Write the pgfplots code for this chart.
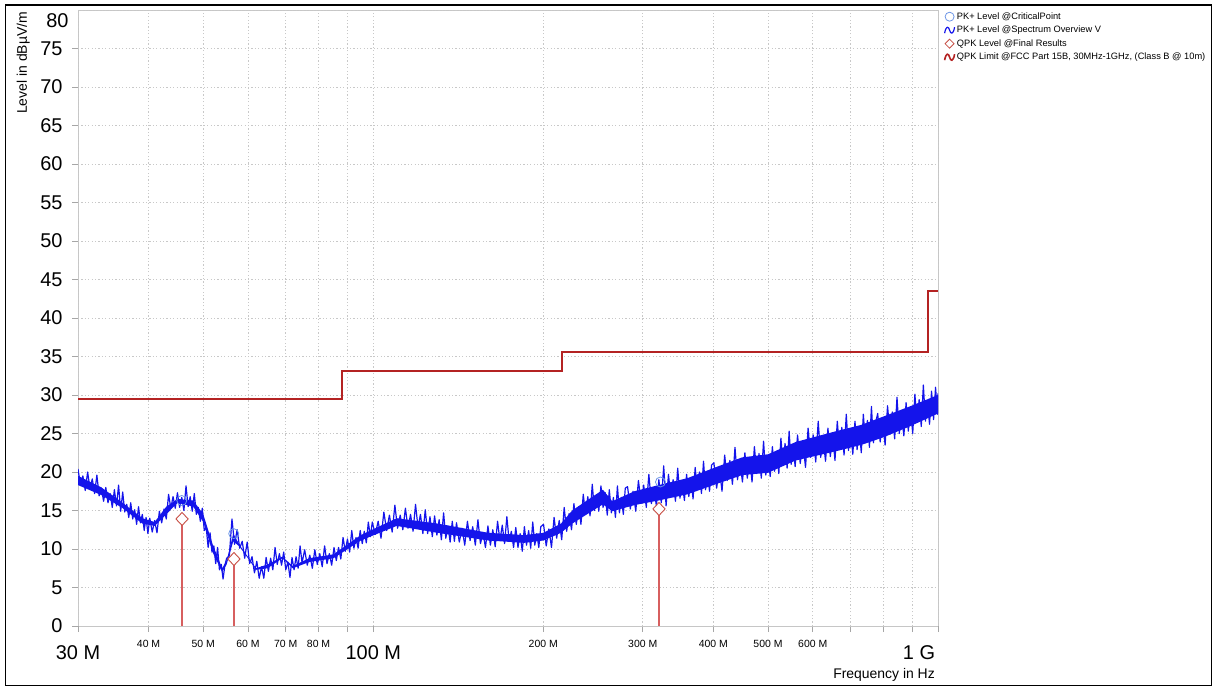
\documentclass[border=0pt]{standalone}
\usepackage{pgfplots}
\pgfplotsset{compat=1.18}
\usepackage{fontspec}
\setmainfont{Liberation Sans}
\definecolor{trace}{RGB}{20,20,235}
\definecolor{limitred}{RGB}{180,35,35}
\definecolor{combred}{RGB}{215,95,95}
\definecolor{diamred}{RGB}{200,80,70}
\definecolor{circblue}{RGB}{110,150,230}
\definecolor{gridgray}{RGB}{200,200,200}
\begin{document}
\begin{tikzpicture}
\path[use as bounding box] (0bp,0bp) rectangle (1216bp,688bp);
\draw[black,line width=1.6bp] (5.5bp,2.5bp) rectangle (1211.5bp,683bp);
\begin{axis}[
  at={(78bp,62bp)}, anchor=south west,
  scale only axis, width=860bp, height=616bp,
  xmode=log, xmin=30, xmax=1000, ymin=0, ymax=80,
  /pgf/number format/assume math mode=true,
  axis line style={gray!45, line width=0.8bp},
  tick style={gray!70, line width=0.8bp},
  major tick length=6bp, minor tick length=6bp,
  tick align=outside, tick pos=left,
  ytick={0,5,...,75},
  extra y ticks={80},
  extra y tick style={major tick length=0pt, yticklabel style={yshift=-11bp}},
  yticklabel style={font=\fontsize{20}{24}\selectfont, xshift=-6bp},
  xtick={40,50,60,70,80,200,300,400,500,600},
  xticklabels={40 M,50 M,60 M,70 M,80 M,200 M,300 M,400 M,500 M,600 M},
  xticklabel style={font=\fontsize{10.5}{12}\selectfont, yshift=-5bp},
  minor xtick={90,700,800,900},
  extra x ticks={30,100,1000},
  extra x tick labels={30 M,100 M,\llap{1 G\hspace{3bp}}},
  extra x tick style={xticklabel style={font=\fontsize{20}{24}\selectfont, yshift=-5bp}},
  xmajorgrids, xminorgrids, ymajorgrids,
  grid style={gridgray, dash pattern=on 1.2bp off 2.2bp, line width=0.9bp},
  minor grid style={gridgray, dash pattern=on 1.2bp off 2.2bp, line width=0.9bp},
  xlabel={Frequency in Hz},
  xlabel style={font=\fontsize{14}{16}\selectfont, at={(axis description cs:0.9965,-0.068)}, anchor=north east, inner sep=0pt},
  ylabel={Level in dBµV/m},
  ylabel style={font=\fontsize{14}{16}\selectfont, at={(axis description cs:-0.056,0.997)}, anchor=south east, inner sep=0pt},
  legend style={draw=none, fill=none, at={(axis description cs:1.0065,1.0)}, anchor=north west,
    font=\fontsize{9.3}{11}\selectfont, row sep=0.5bp, inner sep=0pt,
    nodes={inner sep=1.5bp, text height=7.5bp, text depth=2.5bp}},
  legend cell align=left,
]
% PK+ Level @CriticalPoint
\addplot[only marks, mark=o, mark size=5bp, mark options={circblue, line width=0.8bp},
  legend image code/.code={\draw[circblue, line width=0.8bp] (6bp,0bp) circle (4.5bp);}]
  coordinates {(45.8,16.3)(56.6,12.0)(322.5,18.7)};
\addlegendentry{PK+ Level @CriticalPoint}
% solid core of the spectrum band: upper edge forwards, lower edge backwards
\addplot[fill=trace, draw=none, forget plot] coordinates {
(30,19.5)(33,18.0)(36,16.0)(39,14.0)(41,13.5)(43,15.5)(45,16.5)(48,16.3)(50,14.5)(52,10.5)(54,7.5)(55,8.5)(56.5,12.0)(58,10.5)
(62,7.5)(65,8.0)(69,9.0)(72,7.8)(77,8.8)(85,9.3)(95,11.8)(110,14.0)(130,13.3)(160,12.1)(185,11.8)(200,12.1)(215,13.3)(225,15.0)
(255,17.7)(265,16.2)(290,17.5)(320,18.3)(360,19.2)(400,20.5)(450,21.9)(500,22.3)(560,23.9)(660,25.3)(730,26.1)(800,27.2)(890,28.5)(1000,30.0)
(1000,27.6)(890,25.9)(800,24.5)(730,23.5)(660,22.7)(560,21.5)(500,19.9)(450,19.6)(400,18.3)(360,17.1)(320,16.3)(290,15.7)(265,14.9)(255,15.8)
(225,13.3)(215,12.1)(200,11.1)(185,10.8)(160,11.1)(130,12.1)(110,13.0)(95,11.1)(85,8.8)(77,8.3)(72,7.5)(69,8.8)(65,7.5)(62,7.3)
(58,10.3)(56.5,11.0)(55,8.0)(54,7.0)(52,9.5)(50,13.5)(48,15.5)(45,16.0)(43,14.5)(41,13.0)(39,13.3)(36,15.3)(33,17.0)(30,18.3)};
% PK+ Level @Spectrum Overview V
\addplot[trace, line width=1.2bp, line join=round,
  legend image code/.code={\draw[trace, line width=1.2bp] (1bp,-3bp) .. controls (2.5bp,5bp) and (5bp,4bp) .. (6bp,0bp) .. controls (7bp,-4bp) and (9.5bp,-5bp) .. (11bp,3bp);}]
  coordinates {
(30.0,20.4)(30.3,18.3)(30.6,19.5)(30.9,17.6)(31.2,20.0)(31.5,17.9)(31.8,19.1)(32.1,17.2)(32.4,19.6)(32.7,16.9)(33.0,17.9)(33.3,16.2)
(33.6,18.0)(33.9,16.0)(34.2,17.2)(34.5,15.4)(34.8,17.7)(35.1,15.6)(35.4,18.3)(35.7,14.9)(36.0,17.4)(36.3,14.8)(36.6,15.8)(36.9,14.1)
(37.2,16.0)(37.5,13.9)(37.8,15.1)(38.1,13.2)(38.4,15.5)(38.7,13.4)(39.0,14.5)(39.3,12.4)(39.6,14.1)(39.9,12.0)
(40.2,14.0)(40.6,12.2)(41.0,13.7)(41.4,12.1)(41.8,14.9)(42.2,13.4)(42.6,15.2)(43.0,13.9)(43.4,17.1)(43.8,15.3)(44.2,16.8)(44.6,15.3)
(45.0,17.3)(45.4,15.4)(45.8,16.7)(46.2,15.0)(46.6,18.2)(47.0,15.5)(47.4,16.8)(47.8,14.9)(48.2,17.2)(48.6,14.5)(49.0,15.4)(49.4,13.6)
(49.8,15.3)(50.2,12.4)(50.6,12.8)(51.0,10.2)(51.4,12.1)(51.8,9.6)(52.2,10.4)(52.6,8.1)(53.0,10.2)(53.4,7.3)(53.8,8.0)(54.2,6.1)(54.6,7.9)
(55.0,8.8)(55.6,9.1)(56.2,13.9)(56.8,10.6)(57.4,12.5)(58.0,10.1)(58.6,11.0)(59.2,8.8)(59.8,10.9)(60.4,8.1)(61.0,9.0)(61.6,6.9)
(62.2,8.4)(62.8,6.2)(63.4,7.7)(64.0,6.2)(64.6,8.9)(65.2,7.1)(65.8,8.8)(66.4,7.3)(67.0,10.2)(67.6,8.0)(68.2,9.4)(68.8,7.9)
(69.4,9.6)(70.0,7.3)(70.6,8.3)(71.2,6.3)(71.8,8.9)(72.4,7.3)(73.0,9.0)(73.6,7.5)(74.2,10.4)(74.8,8.2)
(75.6,9.9)(76.4,7.9)(77.2,9.2)(78.0,7.5)(78.8,9.9)(79.6,8.0)(80.4,9.4)(81.2,7.7)(82.0,10.4)(82.8,8.1)(83.6,9.4)(84.4,7.9)
(85.2,10.2)(86.0,8.5)(86.8,10.2)(87.6,8.7)(88.4,11.5)(89.2,9.7)(90.0,11.3)(90.8,9.6)(91.6,12.4)(92.4,10.1)(93.2,11.5)(94.0,10.1)
(94.8,12.4)(95.6,10.7)(96.4,12.3)(97.2,10.8)(98.0,13.5)(98.8,11.6)(99.6,13.5)
(100.8,11.9)(102.0,13.6)(103.2,11.4)(104.4,14.8)(105.6,12.4)(106.8,14.4)(108.0,12.2)(109.2,15.7)(110.4,12.7)(111.6,14.4)(112.8,12.5)
(114.0,15.3)(115.2,12.7)(116.4,14.5)(117.6,12.3)(118.8,15.8)(120.0,12.8)(121.2,14.5)(122.4,12.0)(123.6,15.1)(124.8,12.0)(126.0,14.2)
(127.2,11.6)(128.4,14.3)(129.6,11.8)(130.8,13.8)(132.0,11.2)(133.2,14.7)(134.4,11.4)(135.6,13.0)(136.8,10.9)(138.0,13.6)(139.2,11.0)
(140.4,13.4)(142.0,10.9)(143.6,12.7)(145.2,10.5)(146.8,13.6)(148.4,11.1)(150.0,12.9)(151.6,10.5)(153.2,13.8)(154.8,10.7)(156.4,12.1)
(158.0,10.2)(159.6,13.0)(161.2,10.5)(162.8,12.5)(164.4,10.3)(166.0,13.6)(167.6,11.1)(169.2,13.1)(170.8,10.7)(172.4,14.2)(174.0,11.0)
(175.6,12.3)(177.2,10.2)(178.8,12.8)(180.4,10.2)(182.0,12.0)(183.6,9.7)(185.2,12.9)(186.8,10.5)(188.4,12.4)(190.0,10.1)(191.6,13.5)
(193.2,10.5)(194.8,12.0)(196.4,10.2)(198.0,12.9)
(200.2,13.2)(202.4,10.4)(204.6,12.6)(206.8,10.2)(209.0,14.1)(211.2,11.4)(213.4,13.7)(215.6,11.2)(217.8,15.4)(220.0,12.3)(222.2,14.6)
(224.4,12.5)(226.6,15.9)(228.8,13.2)(231.0,15.5)(233.2,13.2)(235.4,17.1)(237.6,14.5)(239.8,16.8)(242.0,14.3)(244.2,18.4)(246.4,15.0)
(248.6,17.0)(250.8,14.9)(253.0,18.2)(255.2,15.4)(257.4,17.3)(259.6,14.4)(261.8,17.7)(264.0,14.7)(266.2,16.7)(268.4,14.1)(270.6,18.2)
(272.8,14.7)(275.0,16.7)(277.2,14.5)(279.4,17.9)
(282.0,18.1)(285.2,15.2)(288.4,17.5)(291.6,14.9)(294.8,18.9)(298.0,16.0)(301.2,18.3)(304.4,15.4)(307.6,19.7)(310.8,15.9)(314.0,17.9)
(317.2,15.6)(320.4,19.0)(323.6,16.0)(326.8,20.8)(330.0,15.6)(333.2,19.7)(336.4,16.8)(339.6,19.0)(342.8,16.2)(346.0,20.5)(349.2,16.6)
(352.4,18.7)(355.6,16.3)(358.8,19.7)(362.0,16.8)(365.2,19.1)(368.4,16.5)(371.6,20.6)(374.8,17.7)(378.0,20.0)(381.2,17.2)(384.4,21.4)
(387.6,17.7)(390.8,19.8)(394.0,17.5)(397.2,20.9)
(401.0,21.2)(405.5,17.9)(410.0,20.5)(414.5,17.5)(419.0,22.2)(423.5,18.9)(428.0,21.5)(432.5,18.4)(437.0,23.2)(441.5,19.0)(446.0,21.3)
(450.5,18.7)(455.0,22.5)(459.5,19.2)(464.0,21.7)(468.5,18.7)(473.0,23.3)(477.5,19.8)(482.0,22.4)(486.5,19.2)(491.0,24.0)(495.5,19.6)
(500.0,21.9)(504.5,19.4)(509.0,23.3)(513.5,20.1)(518.0,22.7)(522.5,19.8)(527.0,24.4)(531.5,21.1)(536.0,23.7)(540.5,20.5)(545.0,25.3)
(549.5,21.0)(554.0,23.3)(558.5,20.7)
(564.0,24.8)(570.2,21.1)(576.4,23.9)(582.6,20.6)(588.8,25.7)(595.0,21.9)(601.2,24.8)(607.4,21.3)(613.6,26.6)(619.8,21.9)(626.0,24.3)
(632.2,21.4)(638.4,25.7)(644.6,22.0)(650.8,24.8)(657.0,21.5)(663.2,26.6)(669.4,22.9)(675.6,25.8)(681.8,22.2)(688.0,27.5)(694.2,22.8)
(700.4,25.3)(706.6,22.3)(712.8,26.6)(719.0,22.9)(725.2,25.8)(731.4,22.5)(737.6,27.5)(743.8,23.8)(750.0,26.7)(756.2,23.2)(762.4,28.5)
(768.6,23.8)(774.8,26.3)
(782,27.6)(790,23.9)(798,26.8)(806,23.5)(814,28.6)(822,24.9)(830,27.8)(838,24.3)(846,29.7)(854,25.0)(862,27.5)(870,24.7)
(878,29.0)(886,25.3)(894,28.2)(902,25.0)(910,30.1)(918,26.5)(926,29.4)(934,25.9)(942,31.3)(950,26.6)(958,29.1)(966,26.2)
(974,30.5)(982,26.8)(990,31.0)(998,27.5)(1000,30.2)
};
\addlegendentry{PK+ Level @Spectrum Overview V}
% QPK stems
\addplot[combred, line width=1.5bp, ycomb, forget plot]
  coordinates {(45.85,13.9)(56.66,8.7)(320.6,15.2)};
% QPK Level @Final Results
\addplot[only marks, mark=diamond*, mark size=6.5bp, mark options={draw=diamred, fill=white, line width=0.9bp, xscale=1.25},
  legend image code/.code={\draw[diamred, fill=white, line width=0.8bp] (6bp,4.5bp) -- (10.5bp,0bp) -- (6bp,-4.5bp) -- (1.5bp,0bp) -- cycle;}]
  coordinates {(45.85,13.9)(56.66,8.7)(320.6,15.2)};
\addlegendentry{QPK Level @Final Results}
% QPK Limit
\addplot[limitred, line width=2.4bp, line join=miter,
  legend image code/.code={\draw[limitred, line width=1.6bp] (1bp,-3bp) .. controls (2.5bp,5bp) and (5bp,4bp) .. (6bp,0bp) .. controls (7bp,-4bp) and (9.5bp,-5bp) .. (11bp,3bp);}]
  coordinates {(30,29.5)(88,29.5)(88,33.1)(216,33.1)(216,35.6)(960,35.6)(960,43.5)(1000,43.5)};
\addlegendentry{QPK Limit @FCC Part 15B, 30MHz-1GHz, (Class B @ 10m)}
\end{axis}
\end{tikzpicture}
\end{document}
